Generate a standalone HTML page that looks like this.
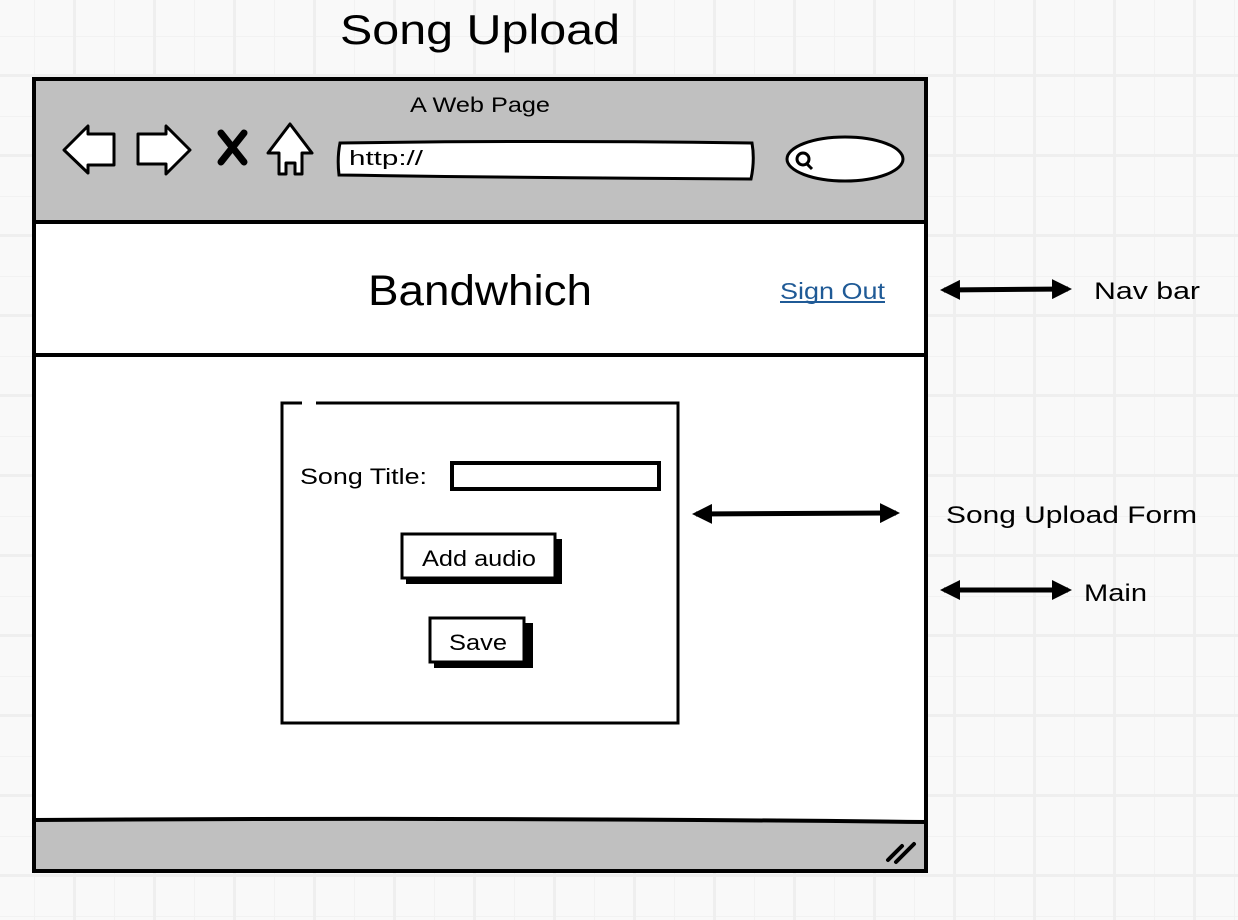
<!DOCTYPE html>
<html><head><meta charset="utf-8"><style>
html,body{margin:0;padding:0;width:1238px;height:920px;overflow:hidden;background:#f9f9f9}
svg{display:block}
text{font-family:"Liberation Sans",sans-serif;fill:#000}
</style></head><body>
<svg width="1238" height="920" viewBox="0 0 1238 920" xmlns="http://www.w3.org/2000/svg">
<defs>
<pattern id="minor" width="40" height="40" patternUnits="userSpaceOnUse" x="34" y="36">
<path d="M0 0.5H40M0.5 0V40" stroke="#f2f2f2" stroke-width="1" fill="none"/>
</pattern>
<pattern id="major" width="80" height="80" patternUnits="userSpaceOnUse" x="73" y="74">
<path d="M0 1.5H80M1.5 0V80" stroke="#efefef" stroke-width="3" fill="none"/>
</pattern>
<marker id="ah" viewBox="0 0 10 10" refX="8" refY="5" markerWidth="4" markerHeight="4" orient="auto-start-reverse">
<path d="M0 0L10 5L0 10Z" fill="#000"/>
</marker>
</defs>
<rect width="1238" height="920" fill="#f9f9f9"/>
<rect width="1238" height="920" fill="url(#minor)"/>
<rect width="1238" height="920" fill="url(#major)"/>

<text x="340" y="44" font-size="42" textLength="280" lengthAdjust="spacingAndGlyphs">Song Upload</text>

<rect x="34" y="79" width="892" height="792" fill="#fff" stroke="#000" stroke-width="4"/>
<rect x="36" y="81" width="888" height="140" fill="#c0c0c0"/>
<line x1="34" y1="222" x2="926" y2="222" stroke="#000" stroke-width="4"/>
<line x1="34" y1="355" x2="926" y2="355" stroke="#000" stroke-width="4"/>
<rect x="36" y="821" width="888" height="48" fill="#c0c0c0"/>
<path d="M34 820Q480 817 926 822" stroke="#000" stroke-width="4" fill="none"/>
<path d="M888 860L902 846M896 862L914 844" stroke="#000" stroke-width="4" stroke-linecap="round"/>

<text x="410" y="112" font-size="21" textLength="140" lengthAdjust="spacingAndGlyphs">A Web Page</text>

<path d="M64 150L88 126V134H114V165H88V173Z" fill="#fff" stroke="#000" stroke-width="3" stroke-linejoin="round"/>
<path d="M190 150L166 126V134H138V164H166V174Z" fill="#fff" stroke="#000" stroke-width="3" stroke-linejoin="round"/>
<path d="M221 133L244 162M244 133L221 162" stroke="#000" stroke-width="7" stroke-linecap="round"/>
<path d="M290 124L312 153H302V174H295V163H286V174H279V153H268Z" fill="#fff" stroke="#000" stroke-width="3" stroke-linejoin="round"/>

<path d="M340 143Q545 140 752 143Q755 160 751 179Q545 178 339 175Q337 158 340 143Z" fill="#fff" stroke="#000" stroke-width="3"/>
<text x="349" y="165" font-size="20" textLength="74" lengthAdjust="spacingAndGlyphs">http://</text>
<ellipse cx="845" cy="159" rx="58" ry="22" fill="#fff" stroke="#000" stroke-width="3"/>
<circle cx="803" cy="159" r="6" fill="none" stroke="#000" stroke-width="3"/>
<line x1="806" y1="163" x2="812" y2="169" stroke="#000" stroke-width="3"/>

<text x="368" y="305" font-size="43" textLength="224" lengthAdjust="spacingAndGlyphs">Bandwhich</text>
<text x="780" y="299" font-size="23" style="fill:#1f5a96" textLength="105" lengthAdjust="spacingAndGlyphs">Sign Out</text>
<line x1="780" y1="302" x2="885" y2="302" stroke="#1f5a96" stroke-width="2"/>

<rect x="282" y="403" width="396" height="320" fill="#fff" stroke="#000" stroke-width="3"/>
<line x1="302" y1="403" x2="316" y2="403" stroke="#fff" stroke-width="5"/>
<text x="300" y="484" font-size="22" textLength="127" lengthAdjust="spacingAndGlyphs">Song Title:</text>
<rect x="452" y="463" width="207" height="26" fill="#fff" stroke="#000" stroke-width="4"/>
<rect x="406" y="539" width="156" height="45" fill="#000"/>
<rect x="402" y="534" width="153" height="44" fill="#fff" stroke="#000" stroke-width="3"/>
<text x="422" y="566" font-size="22" textLength="114" lengthAdjust="spacingAndGlyphs">Add audio</text>
<rect x="434" y="623" width="99" height="45" fill="#000"/>
<rect x="430" y="618" width="94" height="44" fill="#fff" stroke="#000" stroke-width="3"/>
<text x="449" y="650" font-size="22" textLength="58" lengthAdjust="spacingAndGlyphs">Save</text>

<line x1="944" y1="290" x2="1068" y2="289" stroke="#000" stroke-width="5" marker-start="url(#ah)" marker-end="url(#ah)"/>
<text x="1094" y="299" font-size="24" textLength="106" lengthAdjust="spacingAndGlyphs">Nav bar</text>
<line x1="696" y1="514" x2="896" y2="513" stroke="#000" stroke-width="5" marker-start="url(#ah)" marker-end="url(#ah)"/>
<text x="946" y="523" font-size="24" textLength="251" lengthAdjust="spacingAndGlyphs">Song Upload Form</text>
<line x1="944" y1="590" x2="1068" y2="590" stroke="#000" stroke-width="5" marker-start="url(#ah)" marker-end="url(#ah)"/>
<text x="1084" y="601" font-size="24" textLength="63" lengthAdjust="spacingAndGlyphs">Main</text>
</svg>
</body></html>
